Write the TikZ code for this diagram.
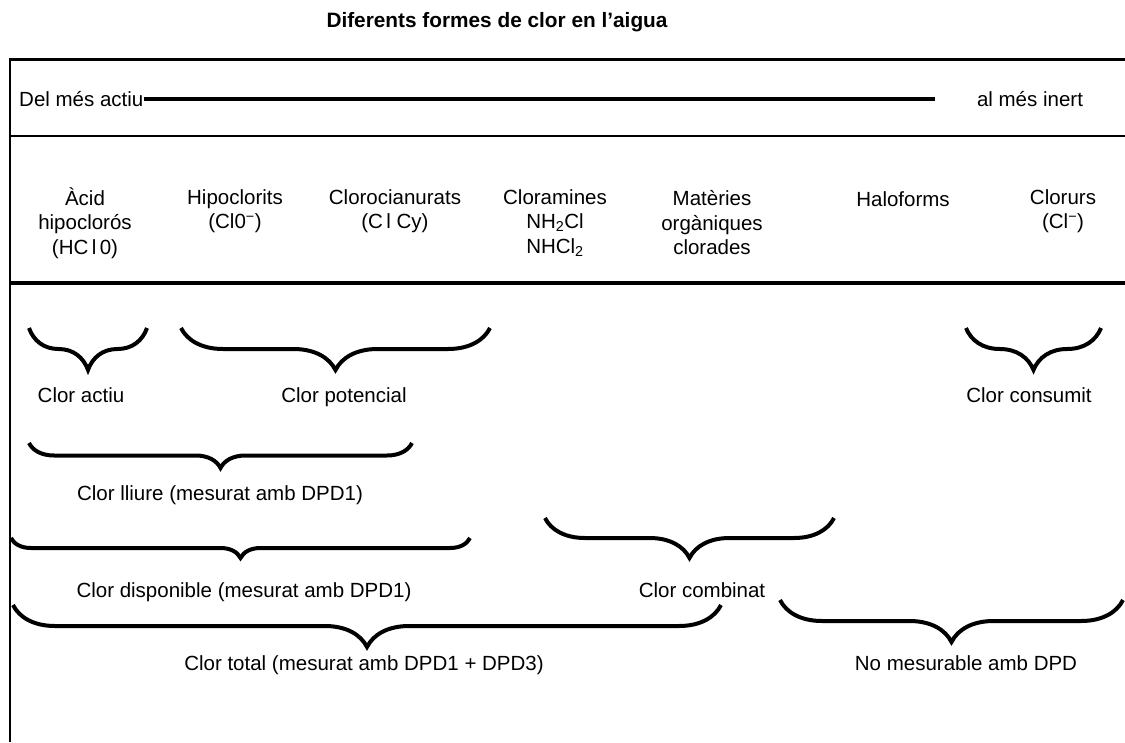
\documentclass[tikz,border=0pt]{standalone}
\usepackage{fontspec}
\setmainfont{Liberation Sans}
\usetikzlibrary{decorations.pathreplacing}

\tikzset{
	lletra/.style={font=\fontsize{20.5}{24.5}\selectfont,inner sep=0pt,align=center},
	nom/.style={lletra,anchor=base},
	titol/.style={font=\bfseries\fontsize{20.8}{24.5}\selectfont,inner sep=0pt},
	accolada/.style={decorate,decoration={brace,mirror,amplitude=#1},line width=4pt}
}

\begin{document}
\begin{tikzpicture}[x=1pt,y=-1pt]
					\useasboundingbox (0,0) rectangle (1125,742);
					\fill[white](0,0) rectangle (1125,742);
					
					% marc de la taula
					\draw[line width=3pt](9,59)--(1125,59);
					\draw[line width=2pt](10,59)--(10,742);
					\draw[line width=2pt](10,136)--(1125,136);
					\draw[line width=3.5pt](10,283)--(1125,283);
					
					\draw(497,22) node[titol](titol){Diferents formes de clor en l'aigua};
					
					% de l'actiu a l'inert
					\draw(19,99) node[lletra,anchor=west](actiu){Del més actiu};
					\draw(1030,99) node[lletra](inert){al més inert};
					\draw[line width=4pt](actiu.east)--(935,99);
					
					% formes de clor
					\draw(85,223) node[lletra](acid){Àcid\\hipoclorós\\(HC\,l\,0)};
					\draw(235,211) node[lletra](hipo){Hipoclorits\\(Cl0\textsuperscript{−})};
					\draw(395,211) node[lletra](ciano){Clorocianurats\\(C\,l Cy)};
					\draw(555,223) node[lletra](amines){Cloramines\\NH\textsubscript{2}Cl\\NHCl\textsubscript{2}};
					\draw(712,223) node[lletra](materies){Matèries\\orgàniques\\clorades};
					\draw(903,199) node[lletra](halo){Haloforms};
					\draw(1063,211) node[lletra](clorurs){Clorurs\\(Cl\textsuperscript{−})};
					
					% accolades
					\draw[accolada=42](29,328)--(147,328);
					\draw[accolada=42](181,328)--(490,328);
					\draw[accolada=42](966,328)--(1101,328);
					\draw[accolada=25](29,443)--(412,443);
					\draw[accolada=20](11,538)--(470,538);
					\draw[accolada=40](545,518)--(834,518);
					\draw[accolada=42](13,605)--(721,605);
					\draw[accolada=42](780,600)--(1123,600);
					
					\draw(81,402) node[nom](cactiu){Clor actiu};
					\draw(344,402) node[nom](cpot){Clor potencial};
					\draw(1029,402) node[nom](ccons){Clor consumit};
					\draw(220,500) node[nom](clliure){Clor lliure (mesurat amb DPD1)};
					\draw(244,597) node[nom](cdisp){Clor disponible (mesurat amb DPD1)};
					\draw(702,597) node[nom](ccomb){Clor combinat};
					\draw(364,670) node[nom](ctotal){Clor total (mesurat amb DPD1 + DPD3)};
					\draw(966,670) node[nom](nomes){No mesurable amb DPD};
						\end{tikzpicture}
\end{document}
